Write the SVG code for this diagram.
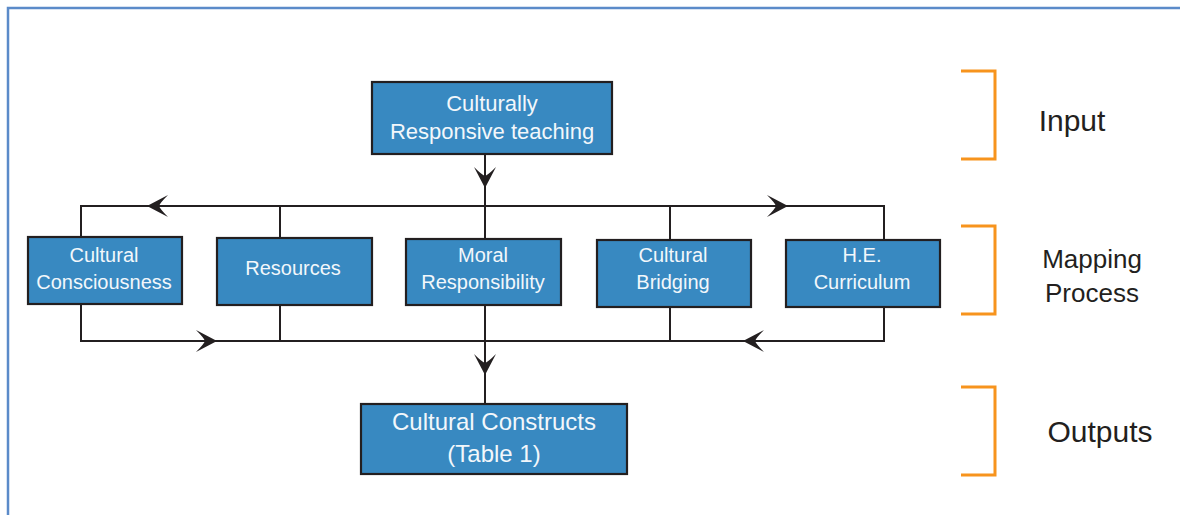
<svg xmlns="http://www.w3.org/2000/svg" xmlns:xlink="http://www.w3.org/1999/xlink" width="1180" height="515" viewBox="0 0 1180 515">
<style>
.box{fill:#3889c1;stroke:#231f20;stroke-width:2.2}
.bt{font-family:"Liberation Sans",Arial,sans-serif;font-size:20px;fill:#f2f7fb;text-anchor:middle}
.ln{fill:none;stroke:#231f20;stroke-width:2}
.br{fill:none;stroke:#f7941d;stroke-width:3}
.lab{font-family:"Liberation Sans",Arial,sans-serif;fill:#231f20;text-anchor:middle}
.ah{fill:#231f20}
</style>
<defs>
<path id="ah" d="M0,0 L-21,-11 Q-13,-3 -12,0 Q-13,3 -21,11 Z"/>
</defs>
<rect width="1180" height="515" fill="#ffffff"/>
<g id="frame">
<path d="M8,515 L8,8 L1180,8" fill="none" stroke="#5b8bc9" stroke-width="2.5"/>
</g>
<g id="connectors">
<path class="ln" d="M485,154 L485,206"/>
<path class="ln" d="M81,237 L81,206 L884,206 L884,240"/>
<path class="ln" d="M280,206 L280,238 M485,206 L485,239 M670,206 L670,240"/>
<path class="ln" d="M81,304 L81,341 L884,341 L884,307"/>
<path class="ln" d="M280,305 L280,341 M485,305 L485,404 M670,307 L670,341"/>
<use href="#ah" class="ah" transform="translate(485,188) rotate(90)"/>
<use href="#ah" class="ah" transform="translate(147,206) rotate(180)"/>
<use href="#ah" class="ah" transform="translate(788,206)"/>
<use href="#ah" class="ah" transform="translate(217,341)"/>
<use href="#ah" class="ah" transform="translate(743,341) rotate(180)"/>
<use href="#ah" class="ah" transform="translate(485,375) rotate(90)"/>
</g>
<g id="n-crt">
<rect class="box" x="372" y="82" width="240" height="72"/>
<text class="bt" x="492" y="111" style="font-size:22px">Culturally</text>
<text class="bt" x="492" y="139" style="font-size:22px">Responsive teaching</text>
</g>
<g id="n-cc">
<rect class="box" x="28" y="237" width="154" height="67"/>
<text class="bt" x="104" y="262">Cultural</text>
<text class="bt" x="104" y="289">Consciousness</text>
</g>
<g id="n-res">
<rect class="box" x="217" y="238" width="155" height="67"/>
<text class="bt" x="293" y="275">Resources</text>
</g>
<g id="n-mr">
<rect class="box" x="406" y="239" width="155" height="66"/>
<text class="bt" x="483" y="262">Moral</text>
<text class="bt" x="483" y="289">Responsibility</text>
</g>
<g id="n-cb">
<rect class="box" x="597" y="240" width="154" height="67"/>
<text class="bt" x="673" y="262">Cultural</text>
<text class="bt" x="673" y="289">Bridging</text>
</g>
<g id="n-he">
<rect class="box" x="786" y="240" width="154" height="67"/>
<text class="bt" x="862" y="262">H.E.</text>
<text class="bt" x="862" y="289">Curriculum</text>
</g>
<g id="n-out">
<rect class="box" x="361" y="404" width="266" height="70"/>
<text class="bt" x="494" y="430" style="font-size:24px">Cultural Constructs</text>
<text class="bt" x="494" y="462" style="font-size:24px">(Table 1)</text>
</g>
<g id="l-input">
<path class="br" d="M961,71 L995,71 L995,159 L961,159"/>
<text class="lab" x="1072" y="131" style="font-size:30px">Input</text>
</g>
<g id="l-mapping">
<path class="br" d="M961,226 L995,226 L995,314 L961,314"/>
<text class="lab" x="1092" y="268" style="font-size:26px">Mapping</text>
<text class="lab" x="1092" y="302" style="font-size:26px">Process</text>
</g>
<g id="l-outputs">
<path class="br" d="M961,387 L995,387 L995,475 L961,475"/>
<text class="lab" x="1100" y="442" style="font-size:30px">Outputs</text>
</g>
</svg>
